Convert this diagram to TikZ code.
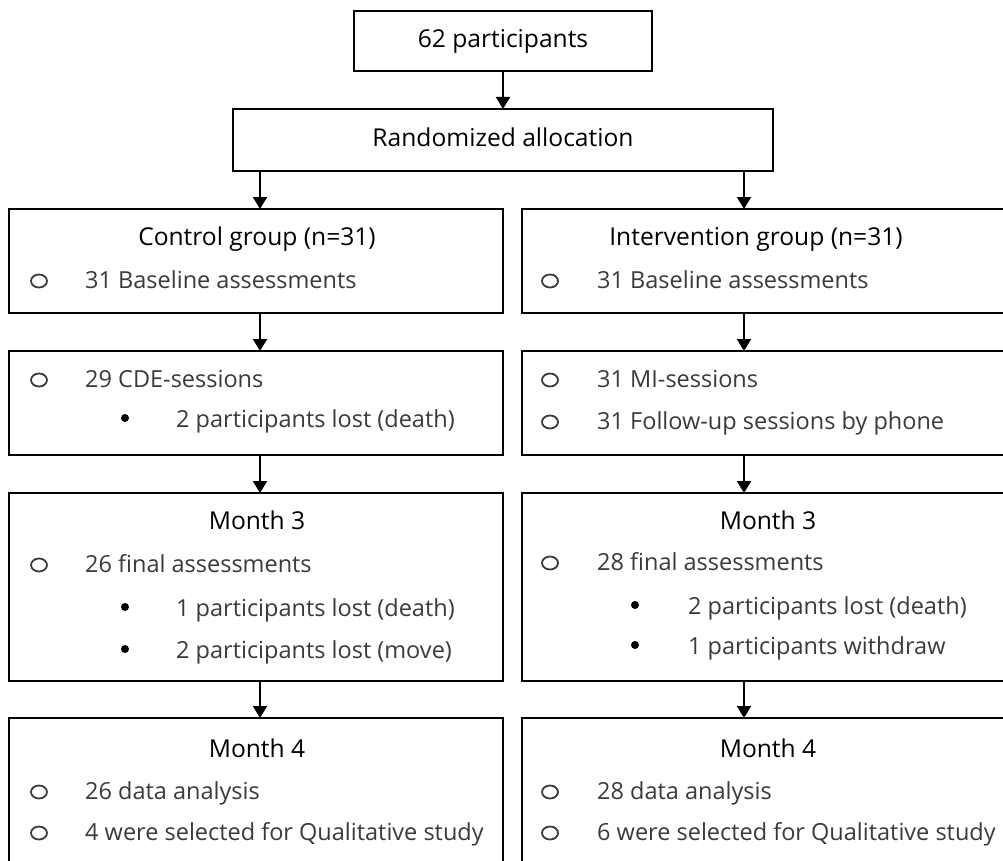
\documentclass[tikz,border=0pt]{standalone}
\usepackage{fontspec}
\setmainfont{Open Sans}
\usetikzlibrary{arrows.meta,shapes.geometric}
\definecolor{itemgray}{HTML}{3A3A3A}
\begin{document}
\begin{tikzpicture}[x=1pt,y=-1pt,
  box/.style={draw=black,line width=2pt,anchor=north west,inner sep=0pt,outer sep=0pt},
  head/.style={anchor=base,inner sep=0pt,font=\fontsize{24.6}{29}\selectfont,text=black},
  item/.style={anchor=base west,inner sep=0pt,font=\fontsize{23.5}{28}\selectfont,text=itemgray},
  obul/.style={draw=itemgray,ellipse,line width=1.8pt,minimum width=16pt,minimum height=13pt,inner sep=0pt},
  dbul/.style={fill=black,circle,minimum size=8pt,inner sep=0pt},
  arr/.style={line width=2pt,-{Triangle[length=12pt,width=14pt]}}]
\useasboundingbox (0,0) rectangle (1003,861);
\clip (0,0) rectangle (1003,861);
% top boxes
\node[box,minimum width=298pt,minimum height=60pt] (top) at (354,11) {};
\node[box,minimum width=540pt,minimum height=62pt] (rand) at (233,109) {};
\node[head] (ttop) at (503,48) {62 participants};
\node[head] (trand) at (503,147) {Randomized allocation};
% column boxes
\node[box,minimum width=494pt,minimum height=104pt] (L1) at (9,209) {};
\node[box,minimum width=494pt,minimum height=104pt] (L2) at (9,351) {};
\node[box,minimum width=494pt,minimum height=188pt] (L3) at (9,493) {};
\node[box,minimum width=494pt,minimum height=200pt] (L4) at (9,718) {};
\node[box,minimum width=503pt,minimum height=104pt] (R1) at (522,209) {};
\node[box,minimum width=503pt,minimum height=104pt] (R2) at (522,351) {};
\node[box,minimum width=503pt,minimum height=188pt] (R3) at (522,493) {};
\node[box,minimum width=503pt,minimum height=200pt] (R4) at (522,718) {};
% arrow columns
\coordinate (la) at (260,0);
\coordinate (ra) at (744,0);
\draw[arr] (top) -- (rand);
\draw[arr] (rand.south -| la) -- (L1.north -| la);
\draw[arr] (rand.south -| ra) -- (R1.north -| ra);
\draw[arr] (L1.south -| la) -- (L2.north -| la);
\draw[arr] (L2.south -| la) -- (L3.north -| la);
\draw[arr] (L3.south -| la) -- (L4.north -| la);
\draw[arr] (R1.south -| ra) -- (R2.north -| ra);
\draw[arr] (R2.south -| ra) -- (R3.north -| ra);
\draw[arr] (R3.south -| ra) -- (R4.north -| ra);
% left column texts
\node[head] (lh1) at (257,245) {Control group (n=31)};
\node[obul] (lo1) at (39,281) {};
\node[item] (li1) at (85,288) {31 Baseline assessments};
\node[obul] (lo2) at (39,380) {};
\node[item] (li2) at (85,387) {29 CDE-sessions};
\node[dbul] (lb2) at (125,418) {};
\node[item] (lj2) at (176,427) {2 participants lost (death)};
\node[head] (lh3) at (257,529) {Month 3};
\node[obul] (lo3) at (39,565) {};
\node[item] (li3) at (85,572) {26 final assessments};
\node[dbul] (lb3a) at (125,607) {};
\node[item] (lj3a) at (176,616) {1 participants lost (death)};
\node[dbul] (lb3b) at (125,649) {};
\node[item] (lj3b) at (176,658) {2 participants lost (move)};
\node[head] (lh4) at (257,757) {Month 4};
\node[obul] (lo4a) at (39,792) {};
\node[item] (li4a) at (85,799) {26 data analysis};
\node[obul] (lo4b) at (39,833) {};
\node[item] (li4b) at (85,840) {4 were selected for Qualitative study};
% right column texts
\node[head] (rh1) at (756,245) {Intervention group (n=31)};
\node[obul] (ro1) at (550,281) {};
\node[item] (ri1) at (597,288) {31 Baseline assessments};
\node[obul] (ro2a) at (550,380) {};
\node[item] (ri2a) at (597,387) {31 MI-sessions};
\node[obul] (ro2b) at (550,422) {};
\node[item] (ri2b) at (597,429) {31 Follow-up sessions by phone};
\node[head] (rh3) at (768,529) {Month 3};
\node[obul] (ro3) at (550,563) {};
\node[item] (ri3) at (597,570) {28 final assessments};
\node[dbul] (rb3a) at (635,605) {};
\node[item] (rj3a) at (688,614) {2 participants lost (death)};
\node[dbul] (rb3b) at (635,645) {};
\node[item] (rj3b) at (688,654) {1 participants withdraw};
\node[head] (rh4) at (768,757) {Month 4};
\node[obul] (ro4a) at (550,792) {};
\node[item] (ri4a) at (597,799) {28 data analysis};
\node[obul] (ro4b) at (550,833) {};
\node[item] (ri4b) at (597,840) {6 were selected for Qualitative study};
\end{tikzpicture}
\end{document}
